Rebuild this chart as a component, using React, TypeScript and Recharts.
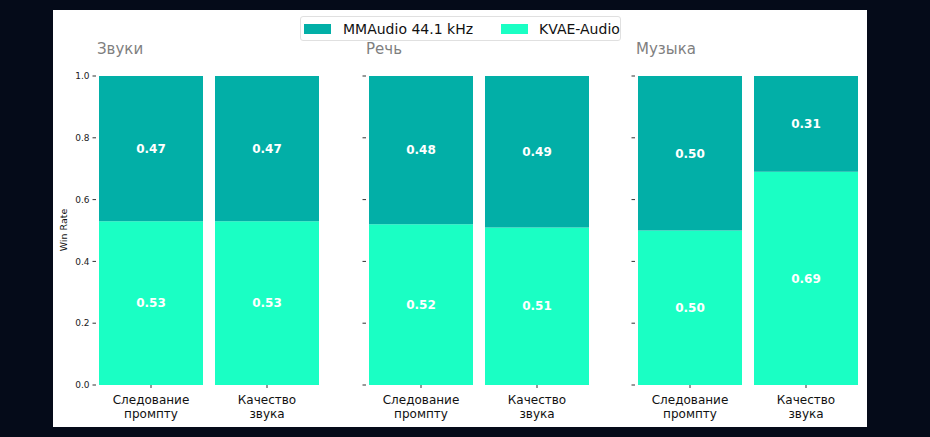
import { BarChart, Bar, XAxis, YAxis, LabelList, Legend } from 'recharts';

const groupTitles = ['Звуки', 'Речь', 'Музыка'];
const criteria = ['Следование промпту', 'Качество звука'];
const kvaeAudio = [
  [0.53, 0.53],
  [0.52, 0.51],
  [0.5, 0.69],
];
const mmAudio = [
  [0.47, 0.47],
  [0.48, 0.49],
  [0.5, 0.31],
];
const yTicks = [0, 0.2, 0.4, 0.6, 0.8, 1.0];
const seriesNames = ['MMAudio 44.1 kHz', 'KVAE-Audio'];

const MM_COLOR = '#02afa7';
const KVAE_COLOR = '#1affc4';
const FONT = '"DejaVu Sans", sans-serif';

// where each subplot sits on the page
const panels = [
  { left: 53, width: 272, yAxisWidth: 43, titleX: 97, labels: true },
  { left: 356, width: 239, yAxisWidth: 10, titleX: 366, labels: false },
  { left: 625, width: 239, yAxisWidth: 10, titleX: 636, labels: false },
];

const CriterionTick = ({ x, y, payload }: any) => {
  const words = String(payload.value).split(' ');
  return (
    <g transform={`translate(${x},${y})`}>
      <text textAnchor="middle" fontSize={12} fill="#111" fontFamily={FONT}>
        {words.map((w, i) => (
          <tspan key={i} x={0} dy={14}>
            {w}
          </tspan>
        ))}
      </text>
    </g>
  );
};

const LegendBox = () => (
  <div
    style={{
      boxSizing: 'border-box',
      width: 321,
      height: 25,
      border: '1px solid #e0e0e0',
      borderRadius: 3,
      background: '#fff',
      display: 'flex',
      alignItems: 'center',
      paddingLeft: 3,
      fontFamily: FONT,
      fontSize: 14,
      color: '#111',
    }}
  >
    <span style={{ width: 27, height: 10, background: MM_COLOR, display: 'inline-block' }} />
    <span style={{ marginLeft: 12 }}>{seriesNames[0]}</span>
    <span style={{ width: 27, height: 10, background: KVAE_COLOR, display: 'inline-block', marginLeft: 28 }} />
    <span style={{ marginLeft: 11 }}>{seriesNames[1]}</span>
  </div>
);

export default function App() {
  return (
    <div
      style={{
        position: 'absolute',
        left: 0,
        top: 0,
        width: 930,
        height: 437,
        background: '#050b19',
        fontFamily: FONT,
        overflow: 'hidden',
      }}
    >
      <div style={{ position: 'absolute', left: 53, top: 10, width: 814, height: 417, background: '#fff' }} />

      {panels.map((p, i) => {
        const data = criteria.map((c, j) => ({ criterion: c, kvae: kvaeAudio[i][j], mm: mmAudio[i][j] }));
        return (
          <div key={i} style={{ position: 'absolute', left: p.left, top: 10 }}>
            <BarChart
              width={p.width}
              height={417}
              data={data}
              margin={{ top: 66, right: 3, left: 0, bottom: 0 }}
              barCategoryGap={6}
            >
              <XAxis
                dataKey="criterion"
                axisLine={false}
                tickLine={{ stroke: '#333' }}
                tickSize={3}
                height={42}
                interval={0}
                padding={{ left: -3, right: -3 }}
                tick={<CriterionTick />}
              />
              <YAxis
                type="number"
                domain={[0, 1]}
                ticks={yTicks}
                width={p.yAxisWidth}
                axisLine={false}
                tickLine={{ stroke: '#333' }}
                tickSize={3.5}
                tickMargin={3}
                tick={{ fontSize: 9, fill: '#222', fontFamily: FONT }}
                tickFormatter={(v: number) => (p.labels ? v.toFixed(1) : '')}
              />
              <Bar dataKey="kvae" stackId="s" fill={KVAE_COLOR} isAnimationActive={false}>
                <LabelList
                  dataKey="kvae"
                  position="center"
                  fill="#fff"
                  fontWeight="bold"
                  fontSize={12}
                  fontFamily={FONT}
                  formatter={(v: any) => Number(v).toFixed(2)}
                />
              </Bar>
              <Bar dataKey="mm" stackId="s" fill={MM_COLOR} isAnimationActive={false}>
                <LabelList
                  dataKey="mm"
                  position="center"
                  fill="#fff"
                  fontWeight="bold"
                  fontSize={12}
                  fontFamily={FONT}
                  formatter={(v: any) => Number(v).toFixed(2)}
                />
              </Bar>
              {i === 1 && (
                <Legend
                  verticalAlign="middle"
                  layout="horizontal"
                  wrapperStyle={{ left: -56, top: 6, width: 321, height: 25 }}
                  content={() => <LegendBox />}
                />
              )}
            </BarChart>
          </div>
        );
      })}

      {groupTitles.map((t, i) => (
        <div
          key={t}
          style={{
            position: 'absolute',
            left: panels[i].titleX,
            top: 41,
            fontSize: 15,
            lineHeight: '17px',
            color: '#7f7f7f',
          }}
        >
          {t}
        </div>
      ))}

      <div
        style={{
          position: 'absolute',
          left: 24,
          top: 224,
          width: 80,
          textAlign: 'center',
          fontSize: 9.5,
          lineHeight: '12px',
          color: '#111',
          transform: 'rotate(-90deg)',
        }}
      >
        Win Rate
      </div>
    </div>
  );
}
